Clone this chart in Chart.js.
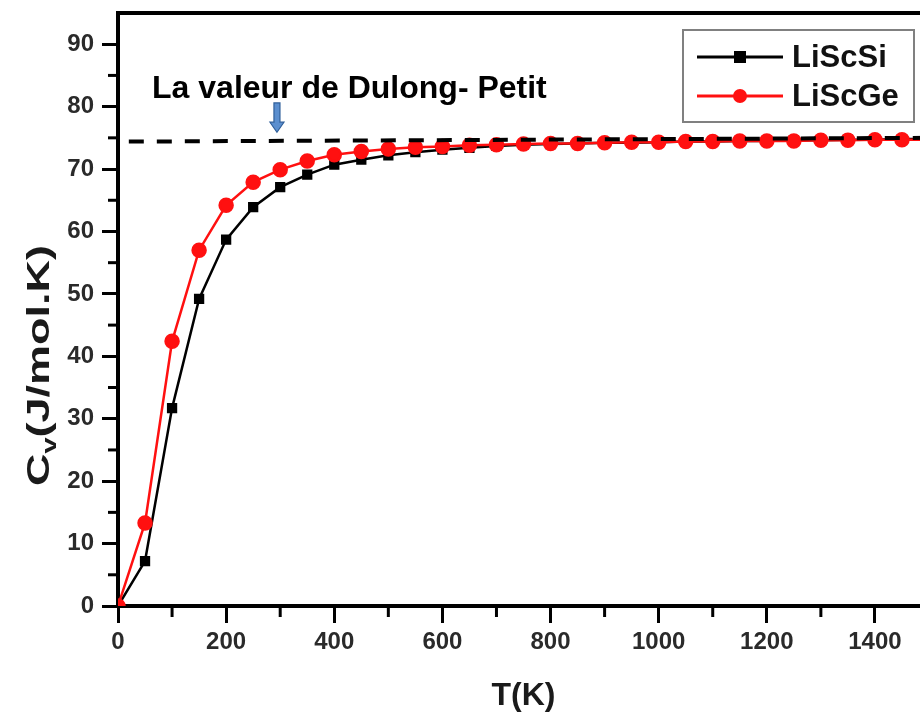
<!DOCTYPE html>
<html>
<head>
<meta charset="utf-8">
<script src="https://cdn.jsdelivr.net/npm/chart.js@4/dist/chart.umd.min.js"></script>
<style>
html,body{margin:0;padding:0;background:#fff;overflow:hidden;width:920px;height:715px;}
#wrap{position:relative;width:940px;height:715px;}
</style>
</head>
<body>
<div id="wrap"><canvas id="c" width="940" height="715"></canvas></div>
<script>
// ---- data ----
const temperatures = [0,50,100,150,200,250,300,350,400,450,500,550,600,650,700,750,800,850,900,950,1000,1050,1100,1150,1200,1250,1300,1350,1400,1450,1500];
const cvLiScSi = [0,7.2,31.7,49.2,58.7,63.9,67.1,69.1,70.7,71.5,72.2,72.7,73.1,73.4,73.7,73.9,74.0,74.1,74.2,74.2,74.3,74.4,74.4,74.5,74.5,74.6,74.6,74.7,74.7,74.8,74.8];
const cvLiScGe = [0,13.3,42.4,57.0,64.2,67.9,69.9,71.3,72.3,72.8,73.2,73.5,73.6,73.8,73.9,74.0,74.1,74.1,74.2,74.3,74.3,74.4,74.4,74.5,74.5,74.5,74.6,74.6,74.7,74.7,74.7];
const dulongT = [20,1500];
const dulongCv = [74.4,75.0];
const xTickValues = [0,200,400,600,800,1000,1200,1400];
const xMinorTicks = [100,300,500,700,900,1100,1300,1500];
const yTickValues = [0,10,20,30,40,50,60,70,80,90];
const yMinorTicks = [5,15,25,35,45,55,65,75,85];
const seriesNames = ['LiScSi','LiScGe'];
const annotationText = 'La valeur de Dulong- Petit';
const annotationAnchor = {x:63, y:81.4};
const arrowAnchor = {x:294, y1:80.6, y2:75.9};

const toXY = (xs, ys) => xs.map((x,i)=>({x:x, y:ys[i]}));

const FONT = '"Liberation Sans", Arial, sans-serif';

const decorPlugin = {
  id:'decor',
  afterDraw(chart){
    const ctx = chart.ctx, ca = chart.chartArea;
    const xs = chart.scales.x, ys = chart.scales.y;
    ctx.save();
    // top frame
    ctx.strokeStyle='#000'; ctx.lineWidth=4;
    ctx.beginPath(); ctx.moveTo(ca.left-2, ca.top); ctx.lineTo(ca.right+2, ca.top); ctx.stroke();
    // minor ticks
    ctx.lineWidth=3;
    yMinorTicks.forEach(v=>{const p=ys.getPixelForValue(v); ctx.beginPath(); ctx.moveTo(ca.left-10,p); ctx.lineTo(ca.left,p); ctx.stroke();});
    xMinorTicks.forEach(v=>{const p=xs.getPixelForValue(v); ctx.beginPath(); ctx.moveTo(p,ca.bottom); ctx.lineTo(p,ca.bottom+11); ctx.stroke();});
    // annotation text
    ctx.fillStyle='#000'; ctx.font='bold 32px '+FONT; ctx.textBaseline='alphabetic'; ctx.textAlign='left';
    ctx.fillText(annotationText, xs.getPixelForValue(annotationAnchor.x), ys.getPixelForValue(annotationAnchor.y));
    // arrow
    const ax = xs.getPixelForValue(arrowAnchor.x), ay1 = ys.getPixelForValue(arrowAnchor.y1), ay2 = ys.getPixelForValue(arrowAnchor.y2);
    const headH = 10;
    ctx.beginPath();
    ctx.moveTo(ax-3, ay1); ctx.lineTo(ax+3, ay1); ctx.lineTo(ax+3, ay2-headH); ctx.lineTo(ax+7, ay2-headH);
    ctx.lineTo(ax, ay2); ctx.lineTo(ax-7, ay2-headH); ctx.lineTo(ax-3, ay2-headH); ctx.closePath();
    ctx.fillStyle='#5b8fcf'; ctx.fill(); ctx.lineWidth=1.2; ctx.strokeStyle='#2f5f9a'; ctx.stroke();
    // y axis title with subscript
    ctx.save();
    ctx.translate(49, 486); ctx.rotate(-Math.PI/2); ctx.scale(1.45,1);
    ctx.fillStyle='#1a1a1a'; ctx.textAlign='left'; ctx.textBaseline='alphabetic';
    ctx.font='bold 31px '+FONT;
    ctx.fillText('C',0,0);
    let w = ctx.measureText('C').width;
    ctx.font='bold 20px '+FONT;
    ctx.fillText('v',w,7);
    w += ctx.measureText('v').width;
    ctx.font='bold 31px '+FONT;
    ctx.fillText('(J/mol.K)',w,0);
    ctx.restore();
    // legend
    const lx=683, ly=30, lw=231, lh=92;
    ctx.fillStyle='#fff'; ctx.fillRect(lx,ly,lw,lh);
    ctx.strokeStyle='#808080'; ctx.lineWidth=2; ctx.strokeRect(lx,ly,lw,lh);
    chart.data.datasets.slice(0,2).forEach((ds,i)=>{
      const yy = ly+27+i*39;
      ctx.strokeStyle=ds.borderColor; ctx.lineWidth=3;
      ctx.beginPath(); ctx.moveTo(697,yy); ctx.lineTo(783,yy); ctx.stroke();
      ctx.fillStyle=ds.pointBackgroundColor;
      if(ds.pointStyle==='rect'){ctx.fillRect(740-6,yy-6,12,12);} else {ctx.beginPath(); ctx.arc(740,yy,7,0,Math.PI*2); ctx.fill();}
      ctx.fillStyle='#111'; ctx.font='bold 31px '+FONT; ctx.textBaseline='middle';
      ctx.fillText(ds.label, 792, yy+1);
    });
    ctx.restore();
  }
};

new Chart(document.getElementById('c'), {
  type:'line',
  data:{
    datasets:[
      {label:seriesNames[0], data:toXY(temperatures,cvLiScSi), borderColor:'#000', backgroundColor:'#000', pointBackgroundColor:'#000', pointBorderColor:'#000', pointStyle:'rect', pointRadius:5.5, borderWidth:2.5, tension:0, order:2},
      {label:seriesNames[1], data:toXY(temperatures,cvLiScGe), borderColor:'#ff1010', backgroundColor:'#ff1010', pointBackgroundColor:'#ff1010', pointBorderColor:'#ff1010', pointStyle:'circle', pointRadius:6.5, borderWidth:2.5, tension:0, order:1},
      {label:'Dulong-Petit', data:toXY(dulongT,dulongCv), borderColor:'#000', borderWidth:4, borderDash:[15,13], pointRadius:0, tension:0, order:0}
    ]
  },
  options:{
    responsive:false, animation:false, maintainAspectRatio:false,
    layout:{padding:{top:13,right:11,left:0,bottom:0}},
    plugins:{legend:{display:false}, tooltip:{enabled:false}},
    scales:{
      x:{type:'linear', min:0, max:1500,
        afterBuildTicks:(s)=>{s.ticks = xTickValues.map(v=>({value:v}));},
        afterFit:(s)=>{s.height=109; s.paddingLeft=0; s.paddingRight=0;},
        ticks:{font:{family:FONT,size:24,weight:'bold'}, color:'#2a2a2a', padding:5, maxRotation:0, autoSkip:false, callback:(v)=>String(v)},
        grid:{display:true, drawOnChartArea:false, drawTicks:true, tickLength:17, tickColor:'#000', tickWidth:3},
        border:{display:true, color:'#000', width:4},
        title:{display:true, text:'T(K)', font:{family:FONT,size:32,weight:'bold'}, color:'#1a1a1a', padding:{top:2,bottom:0}}
      },
      y:{type:'linear', min:0, max:95,
        afterBuildTicks:(s)=>{s.ticks = yTickValues.map(v=>({value:v}));},
        afterFit:(s)=>{s.width=118; s.paddingTop=0; s.paddingBottom=0;},
        ticks:{font:{family:FONT,size:24,weight:'bold'}, color:'#2a2a2a', padding:8, autoSkip:false, callback:(v)=>String(v)},
        grid:{display:true, drawOnChartArea:false, drawTicks:true, tickLength:16, tickColor:'#000', tickWidth:3},
        border:{display:true, color:'#000', width:4}
      }
    }
  },
  plugins:[decorPlugin]
});
</script>
</body>
</html>
